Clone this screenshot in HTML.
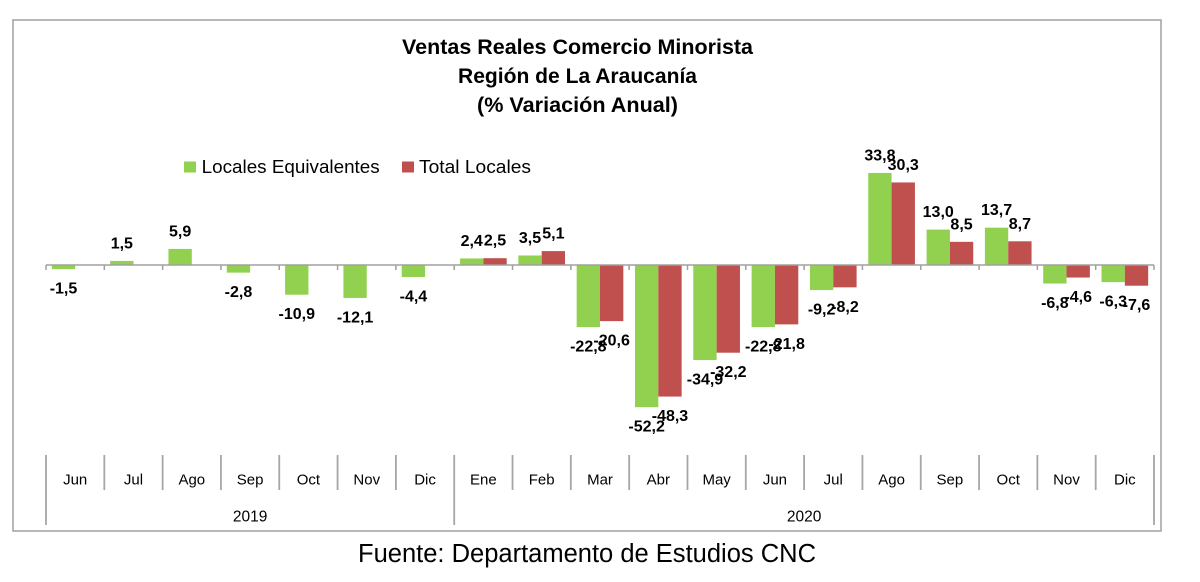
<!DOCTYPE html>
<html>
<head>
<meta charset="utf-8">
<style>
html,body{margin:0;padding:0;background:#fff;}
svg{display:block;}
text{font-family:"Liberation Sans",Arial,sans-serif;fill:#000;}
.t{font-weight:bold;font-size:21.5px;}
.lg{font-size:18.5px;}
.dl{font-weight:bold;font-size:16px;}
.m{font-size:15px;}
.y{font-size:15.5px;}
</style>
</head>
<body>
<svg width="1200" height="582" viewBox="0 0 1200 582" xmlns="http://www.w3.org/2000/svg">
<rect x="0" y="0" width="1200" height="582" fill="#fff"/>
<!-- frame -->
<rect x="13" y="20" width="1148" height="511" fill="none" stroke="#a0a0a0" stroke-width="1.5"/>

<!-- title -->
<text class="t" x="577.5" y="54" text-anchor="middle" textLength="351" lengthAdjust="spacingAndGlyphs">Ventas Reales Comercio Minorista</text>
<text class="t" x="577.5" y="83" text-anchor="middle" textLength="239" lengthAdjust="spacingAndGlyphs">Región de La Araucanía</text>
<text class="t" x="577.5" y="112" text-anchor="middle" textLength="201" lengthAdjust="spacingAndGlyphs">(% Variación Anual)</text>

<!-- legend -->
<rect x="184" y="161.5" width="12" height="11" fill="#92D050"/>
<text class="lg" x="201.7" y="173" textLength="178" lengthAdjust="spacingAndGlyphs">Locales Equivalentes</text>
<rect x="402" y="161.5" width="12" height="11" fill="#C0504D"/>
<text class="lg" x="419" y="173" textLength="112" lengthAdjust="spacingAndGlyphs">Total Locales</text>

<!-- bars green -->
<g fill="#92D050">
<rect x="51.83" y="265" width="23.33" height="4.09"/>
<rect x="110.15" y="260.91" width="23.33" height="4.09"/>
<rect x="168.46" y="248.93" width="23.33" height="16.07"/>
<rect x="226.78" y="265" width="23.33" height="7.63"/>
<rect x="285.09" y="265" width="23.33" height="29.69"/>
<rect x="343.41" y="265" width="23.33" height="32.96"/>
<rect x="401.73" y="265" width="23.33" height="11.99"/>
<rect x="460.04" y="258.46" width="23.33" height="6.54"/>
<rect x="518.36" y="255.47" width="23.33" height="9.53"/>
<rect x="576.67" y="265" width="23.33" height="62.11"/>
<rect x="634.99" y="265" width="23.33" height="142.19"/>
<rect x="693.31" y="265" width="23.33" height="95.07"/>
<rect x="751.62" y="265" width="23.33" height="62.11"/>
<rect x="809.94" y="265" width="23.33" height="25.06"/>
<rect x="868.25" y="172.93" width="23.33" height="92.07"/>
<rect x="926.57" y="229.59" width="23.33" height="35.41"/>
<rect x="984.89" y="227.68" width="23.33" height="37.32"/>
<rect x="1043.20" y="265" width="23.33" height="18.52"/>
<rect x="1101.52" y="265" width="23.33" height="17.16"/>
</g>
<!-- bars red -->
<g fill="#C0504D">
<rect x="483.37" y="258.19" width="23.33" height="6.81"/>
<rect x="541.69" y="251.11" width="23.33" height="13.89"/>
<rect x="600.00" y="265" width="23.33" height="56.11"/>
<rect x="658.32" y="265" width="23.33" height="131.57"/>
<rect x="716.64" y="265" width="23.33" height="87.71"/>
<rect x="774.95" y="265" width="23.33" height="59.38"/>
<rect x="833.27" y="265" width="23.33" height="22.34"/>
<rect x="891.58" y="182.46" width="23.33" height="82.54"/>
<rect x="949.90" y="241.85" width="23.33" height="23.15"/>
<rect x="1008.22" y="241.30" width="23.33" height="23.70"/>
<rect x="1066.53" y="265" width="23.33" height="12.53"/>
<rect x="1124.85" y="265" width="23.33" height="20.70"/>
</g>

<!-- zero axis + ticks -->
<g stroke="#a0a0a0" stroke-width="1.5">
<line x1="46" y1="265" x2="1154" y2="265"/>
<line x1="46" y1="265" x2="46" y2="270"/>
<line x1="104.32" y1="265" x2="104.32" y2="270"/>
<line x1="162.63" y1="265" x2="162.63" y2="270"/>
<line x1="220.95" y1="265" x2="220.95" y2="270"/>
<line x1="279.26" y1="265" x2="279.26" y2="270"/>
<line x1="337.58" y1="265" x2="337.58" y2="270"/>
<line x1="395.90" y1="265" x2="395.90" y2="270"/>
<line x1="454.21" y1="265" x2="454.21" y2="270"/>
<line x1="512.53" y1="265" x2="512.53" y2="270"/>
<line x1="570.84" y1="265" x2="570.84" y2="270"/>
<line x1="629.16" y1="265" x2="629.16" y2="270"/>
<line x1="687.48" y1="265" x2="687.48" y2="270"/>
<line x1="745.79" y1="265" x2="745.79" y2="270"/>
<line x1="804.11" y1="265" x2="804.11" y2="270"/>
<line x1="862.42" y1="265" x2="862.42" y2="270"/>
<line x1="920.74" y1="265" x2="920.74" y2="270"/>
<line x1="979.06" y1="265" x2="979.06" y2="270"/>
<line x1="1037.37" y1="265" x2="1037.37" y2="270"/>
<line x1="1095.69" y1="265" x2="1095.69" y2="270"/>
<line x1="1154" y1="265" x2="1154" y2="270"/>
</g>

<!-- data labels green -->
<g text-anchor="middle">
<text class="dl" x="63.50" y="293.6">-1,5</text>
<text class="dl" x="121.82" y="248.4">1,5</text>
<text class="dl" x="180.13" y="236.4">5,9</text>
<text class="dl" x="238.45" y="297.1">-2,8</text>
<text class="dl" x="296.76" y="319.2">-10,9</text>
<text class="dl" x="355.08" y="322.5">-12,1</text>
<text class="dl" x="413.40" y="301.5">-4,4</text>
<text class="dl" x="471.71" y="246">2,4</text>
<text class="dl" x="530.03" y="243">3,5</text>
<text class="dl" x="588.34" y="351.6">-22,8</text>
<text class="dl" x="646.66" y="431.7">-52,2</text>
<text class="dl" x="704.98" y="384.6">-34,9</text>
<text class="dl" x="763.29" y="351.6">-22,8</text>
<text class="dl" x="821.61" y="314.6">-9,2</text>
<text class="dl" x="879.92" y="160.4">33,8</text>
<text class="dl" x="938.24" y="217.1">13,0</text>
<text class="dl" x="996.56" y="215.2">13,7</text>
<text class="dl" x="1054.87" y="308">-6,8</text>
<text class="dl" x="1113.19" y="306.7">-6,3</text>
</g>
<!-- data labels red -->
<g text-anchor="middle">
<text class="dl" x="495.03" y="245.7">2,5</text>
<text class="dl" x="553.35" y="238.6">5,1</text>
<text class="dl" x="611.66" y="345.6">-20,6</text>
<text class="dl" x="669.98" y="421.1">-48,3</text>
<text class="dl" x="728.30" y="377.2">-32,2</text>
<text class="dl" x="786.61" y="348.9">-21,8</text>
<text class="dl" x="844.93" y="311.8">-8,2</text>
<text class="dl" x="903.24" y="170">30,3</text>
<text class="dl" x="961.56" y="229.4">8,5</text>
<text class="dl" x="1019.88" y="228.8">8,7</text>
<text class="dl" x="1078.19" y="302">-4,6</text>
<text class="dl" x="1136.51" y="310.2">-7,6</text>
</g>

<!-- category separators -->
<g stroke="#a6a6a6" stroke-width="1.8">
<line x1="46" y1="455" x2="46" y2="525"/>
<line x1="104.32" y1="455" x2="104.32" y2="490"/>
<line x1="162.63" y1="455" x2="162.63" y2="490"/>
<line x1="220.95" y1="455" x2="220.95" y2="490"/>
<line x1="279.26" y1="455" x2="279.26" y2="490"/>
<line x1="337.58" y1="455" x2="337.58" y2="490"/>
<line x1="395.90" y1="455" x2="395.90" y2="490"/>
<line x1="454.21" y1="455" x2="454.21" y2="525"/>
<line x1="512.53" y1="455" x2="512.53" y2="490"/>
<line x1="570.84" y1="455" x2="570.84" y2="490"/>
<line x1="629.16" y1="455" x2="629.16" y2="490"/>
<line x1="687.48" y1="455" x2="687.48" y2="490"/>
<line x1="745.79" y1="455" x2="745.79" y2="490"/>
<line x1="804.11" y1="455" x2="804.11" y2="490"/>
<line x1="862.42" y1="455" x2="862.42" y2="490"/>
<line x1="920.74" y1="455" x2="920.74" y2="490"/>
<line x1="979.06" y1="455" x2="979.06" y2="490"/>
<line x1="1037.37" y1="455" x2="1037.37" y2="490"/>
<line x1="1095.69" y1="455" x2="1095.69" y2="490"/>
<line x1="1154" y1="455" x2="1154" y2="525"/>
</g>

<!-- month labels -->
<g text-anchor="middle">
<text class="m" x="75.16" y="484.5">Jun</text>
<text class="m" x="133.48" y="484.5">Jul</text>
<text class="m" x="191.79" y="484.5">Ago</text>
<text class="m" x="250.11" y="484.5">Sep</text>
<text class="m" x="308.42" y="484.5">Oct</text>
<text class="m" x="366.74" y="484.5">Nov</text>
<text class="m" x="425.06" y="484.5">Dic</text>
<text class="m" x="483.37" y="484.5">Ene</text>
<text class="m" x="541.69" y="484.5">Feb</text>
<text class="m" x="600.00" y="484.5">Mar</text>
<text class="m" x="658.32" y="484.5">Abr</text>
<text class="m" x="716.64" y="484.5">May</text>
<text class="m" x="774.95" y="484.5">Jun</text>
<text class="m" x="833.27" y="484.5">Jul</text>
<text class="m" x="891.58" y="484.5">Ago</text>
<text class="m" x="949.90" y="484.5">Sep</text>
<text class="m" x="1008.22" y="484.5">Oct</text>
<text class="m" x="1066.53" y="484.5">Nov</text>
<text class="m" x="1124.85" y="484.5">Dic</text>
<text class="y" x="250.1" y="521.5">2019</text>
<text class="y" x="804.1" y="521.5">2020</text>
</g>

<!-- source -->
<text x="358" y="562" font-size="25.5" textLength="458" lengthAdjust="spacingAndGlyphs">Fuente: Departamento de Estudios CNC</text>
</svg>
</body>
</html>
